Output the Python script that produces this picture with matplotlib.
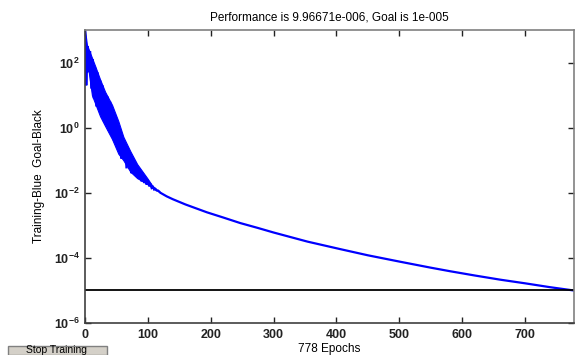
import matplotlib
matplotlib.use("Agg")
import matplotlib.pyplot as plt
from matplotlib.patches import Rectangle
from matplotlib.ticker import FixedLocator, FuncFormatter
import numpy as np

plt.rcParams["font.family"] = ["Liberation Sans", "DejaVu Sans"]
plt.rcParams["mathtext.fontset"] = "custom"
plt.rcParams["mathtext.rm"] = "Liberation Sans"
plt.rcParams["mathtext.bf"] = "Liberation Sans:bold"

# noisy early phase (log10 of performance)
noisy_epochs = list(range(0, 121, 2))
noisy_log_perf = [
    3.0, 1.3, 2.5, 1.7, 2.35, 1.2, 2.1, 0.9, 1.85, 0.65,
    1.7, 0.8, 1.45, 0.45, 1.3, 0.2, 1.05, 0.3, 0.95, -0.1,
    0.8, 0.0, 0.55, -0.4, 0.35, -0.2, 0.1, -0.7, -0.1, -0.95,
    -0.4, -0.8, -0.5, -1.25, -0.6, -1.1, -0.8, -1.4, -0.95, -1.35,
    -1.15, -1.5, -1.25, -1.55, -1.35, -1.65, -1.45, -1.7, -1.55, -1.75,
    -1.62, -1.8, -1.72, -1.85, -1.82, -1.9, -1.88, -1.93, -1.93, -1.96,
    -2.0,
]

# envelope of the oscillating band (log10)
band_epochs = [0, 3, 6, 11, 16, 24, 32, 43, 53, 61, 72, 83, 99, 107, 115, 120]
band_upper = [3.0, 2.55, 2.4, 2.15, 1.9, 1.48, 1.1, 0.7, 0.2, -0.28,
              -0.72, -1.12, -1.55, -1.78, -1.92, -2.0]
band_lower = [2.2, 1.9, 1.7, 1.0, 0.75, 0.35, 0.05, -0.35, -0.8, -1.0,
              -1.35, -1.55, -1.72, -1.85, -1.93, -2.0]

# smooth tail
tail_epochs = [130, 140, 150, 160, 177, 194, 220, 247, 275, 300, 354, 406,
               450, 502, 550, 581, 620, 661, 700, 740, 778]
tail_log_perf = [-2.11, -2.20, -2.28, -2.36, -2.48, -2.60, -2.76, -2.93,
                 -3.08, -3.22, -3.50, -3.73, -3.92, -4.12, -4.30, -4.41,
                 -4.54, -4.67, -4.78, -4.90, -5.0015]

goal = 1e-5
total_epochs = 778
title_text = "Performance is 9.96671e-006, Goal is 1e-005"

epochs = np.array(noisy_epochs + tail_epochs)
perf = 10.0 ** np.array(noisy_log_perf + tail_log_perf)

fig = plt.figure(figsize=(5.76, 3.55), dpi=100)
ax = fig.add_axes([0.1476, 0.0901, 0.8489, 0.8254])

ax.fill_between(band_epochs, 10.0 ** np.array(band_lower),
                10.0 ** np.array(band_upper), color="#0000ff",
                linewidth=0.8, edgecolor="#0000ff")
ax.semilogy(epochs, perf, color="#0000ff", linewidth=1.6, solid_joinstyle="miter")
ax.axhline(goal, color="black", linewidth=1.3)

ax.set_xlim(0, total_epochs)
ax.set_ylim(1e-6, 1e3)
ax.xaxis.set_major_locator(FixedLocator(range(0, 701, 100)))
ax.yaxis.set_major_locator(FixedLocator([1e-6, 1e-4, 1e-2, 1e0, 1e2]))
ax.yaxis.set_minor_locator(FixedLocator([]))
ax.yaxis.set_major_formatter(
    FuncFormatter(lambda v, pos: r"$\mathbf{10^{%d}}$" % round(np.log10(v)))
)

ax.tick_params(direction="in", top=True, right=True, length=4, width=1,
               labelsize=9, colors="#222222", pad=4)
for label in ax.get_xticklabels():
    label.set_fontweight("bold")

for side in ("left", "bottom"):
    ax.spines[side].set_color("#404040")
    ax.spines[side].set_linewidth(1.2)
for side in ("top", "right"):
    ax.spines[side].set_color("#808080")
    ax.spines[side].set_linewidth(1.2)

ax.set_title(title_text, fontsize=8.5, pad=7)
ax.set_ylabel("Training-Blue  Goal-Black", fontsize=8.5, labelpad=6)
ax.set_xlabel(f"{total_epochs} Epochs", fontsize=8.5, labelpad=2)

# "Stop Training" button at the bottom left
fig.patches.append(Rectangle((8 / 576, 0.0), 99 / 576, 9 / 355,
                             transform=fig.transFigure, facecolor="#d4d0c8",
                             edgecolor="#808080", linewidth=1))
fig.text(57 / 576, 0 / 355, "Stop Training", fontsize=7.5, ha="center",
         va="bottom", color="black")

fig.savefig("out.png", dpi=100)
